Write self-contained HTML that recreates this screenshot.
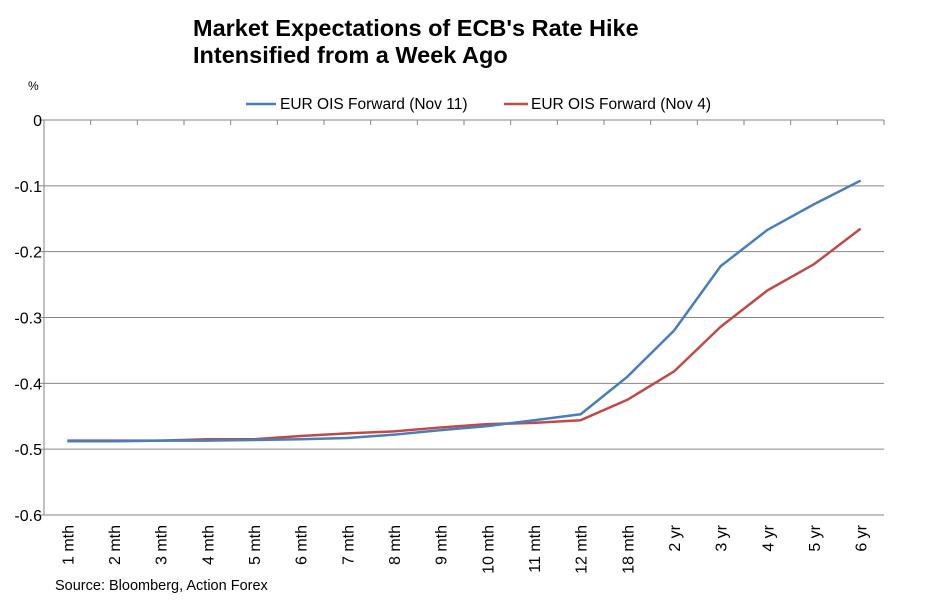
<!DOCTYPE html>
<html><head><meta charset="utf-8"><style>
body{margin:0;background:#fff;font-family:"Liberation Sans",Arial,sans-serif}
</style></head><body>
<svg width="935" height="609" viewBox="0 0 935 609" xmlns="http://www.w3.org/2000/svg">
<rect width="935" height="609" fill="#fff"/>
<text x="193" y="36" font-size="23.5" font-weight="bold">Market Expectations of ECB's Rate Hike</text>
<text x="193" y="63" font-size="23.5" font-weight="bold">Intensified from a Week Ago</text>
<text x="28" y="90" font-size="12">%</text>
<g>
<line x1="246" y1="104" x2="276" y2="104" stroke="#4a7ebb" stroke-width="2.5"/>
<text x="280" y="109" font-size="15.5">EUR OIS Forward (Nov 11)</text>
<line x1="504" y1="104" x2="528" y2="104" stroke="#be4b48" stroke-width="2.5"/>
<text x="531" y="109" font-size="15.5">EUR OIS Forward (Nov 4)</text>
</g>
<g id="grid"></g><g id="axes"></g><g id="series"></g>
<text x="55" y="590" font-size="14.5">Source: Bloomberg, Action Forex</text>
</svg>
<script>
const categories=["1 mth","2 mth","3 mth","4 mth","5 mth","6 mth","7 mth","8 mth","9 mth","10 mth","11 mth","12 mth","18 mth","2 yr","3 yr","4 yr","5 yr","6 yr"];
const nov11=[-0.488,-0.488,-0.487,-0.487,-0.486,-0.485,-0.483,-0.478,-0.471,-0.465,-0.456,-0.447,-0.39,-0.32,-0.222,-0.167,-0.128,-0.092];
const nov4=[-0.487,-0.487,-0.487,-0.485,-0.485,-0.480,-0.476,-0.473,-0.467,-0.462,-0.460,-0.456,-0.425,-0.382,-0.314,-0.259,-0.219,-0.165];
const yTicks=[0,-0.1,-0.2,-0.3,-0.4,-0.5,-0.6];
const yTickLabels=["0","-0.1","-0.2","-0.3","-0.4","-0.5","-0.6"];
const NS="http://www.w3.org/2000/svg";
const L=44,R=884,T=120,B=515;
const bw=(R-L)/categories.length;
const x=i=>L+bw*(i+0.5);
const y=v=>T+(0-v)/0.6*(B-T);
function mk(tag,attrs,parent){const e=document.createElementNS(NS,tag);for(const k in attrs)e.setAttribute(k,attrs[k]);parent.appendChild(e);return e;}
const grid=document.getElementById('grid'),axes=document.getElementById('axes'),series=document.getElementById('series');
yTicks.forEach((v,i)=>{
 const g=mk('line',{x1:L,x2:R,y1:y(v),y2:y(v),stroke:'#868686','stroke-width':1},grid);
 
 
 mk('line',{x1:L-5,x2:L,y1:y(v),y2:y(v),stroke:'#868686'},axes);
 const t=mk('text',{x:L-2,y:y(v)+6,'font-size':16,'text-anchor':'end'},axes);
 t.textContent=yTickLabels[i];
 
 
});
const ya=mk('line',{x1:L,x2:L,y1:T,y2:B,stroke:'#868686'},axes);


for(let i=0;i<=categories.length;i++){mk('line',{x1:L+bw*i,x2:L+bw*i,y1:T,y2:T+5,stroke:'#868686'},axes);}
categories.forEach((c,i)=>{
 const t=mk('text',{x:0,y:0,'font-size':16,'text-anchor':'end',transform:`translate(${x(i)+6},${B+10}) rotate(-90)`},axes);
 t.textContent=c;
 
 
});
function line(data,color,name){
 const p=mk('polyline',{points:data.map((v,i)=>x(i)+','+y(v)).join(' '),fill:'none',stroke:color,'stroke-width':2.5,'stroke-linejoin':'round'},series);
 
 
}
line(nov4,'#be4b48','series-nov4');
line(nov11,'#4a7ebb','series-nov11');
</script>
</body></html>
